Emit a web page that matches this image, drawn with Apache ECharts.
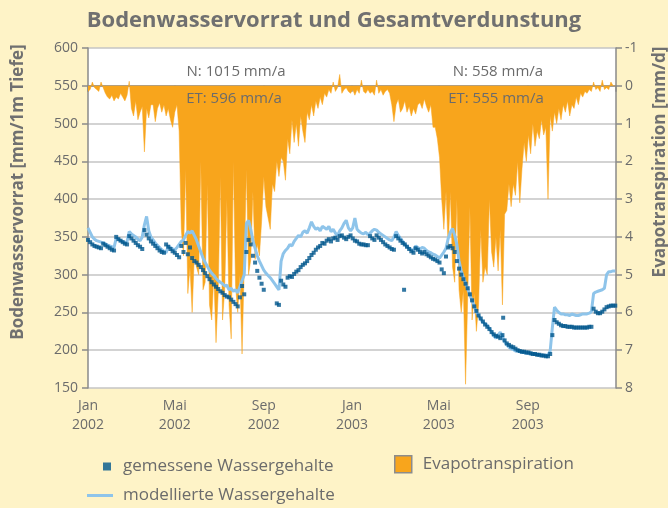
<!DOCTYPE html>
<html>
<head>
<meta charset="utf-8">
<script src="https://cdn.jsdelivr.net/npm/echarts@6/dist/echarts.min.js"></script>
<style>
  html, body { margin: 0; padding: 0; background: #fef3c7; }
  #chart { width: 668px; height: 508px; }
</style>
</head>
<body>
<div id="chart"></div>
<script>
// x axis runs in days from 1 Jan 2002
var monatsTicks = [0, 120, 243, 365, 485, 608, 730];
var monatsLabels = ['Jan\n2002', 'Mai\n2002', 'Sep\n2002', 'Jan\n2003', 'Mai\n2003', 'Sep\n2003', ''];

// all series: one value every 3rd day
var SCHRITT = 3;

// Evapotranspiration [mm/d]
var evapotranspiration = [
  0.15, 0.1, -0.1, 0.05, 0.1, 0.15, -0.1, 0.05, 0.2, 0.3,
  0.35, 0.25, 0.4, 0.3, 0.35, 0.2, 0.3, 0.4, 0.25, -0.12,
  0.6, 0.8, 0.4, 0.9, 0.7, 0.55, 1.75, 0.6, 0.85, 0.5,
  0.5, 0.95, 0.6, 0.45, 0.7, 0.5, 0.8, 0.6, 0.9, 1.1,
  0.7, 0.5, 1.2, 3.8, 4.5, 2.2, 5.5, 4.8, 6.0, 4.5,
  4.8, 5.0, 2.0, 5.4, 5.2, 2.6, 5.8, 6.2, 5.0, 6.8,
  5.5, 2.4, 6.2, 5.4, 3.0, 5.8, 6.7, 2.0, 5.3, 6.0,
  5.0, 7.1, 4.8, 2.2, 5.0, 4.6, 2.8, 4.6, 4.2, 4.5,
  3.6, 2.4, 3.2, 3.5, 3.8, 2.6, 2.8, 2.0, 2.4, 1.9,
  2.0, 2.5, 1.4, 1.8, 0.9, 1.5, 1.0, 1.6, 0.8, 1.2,
  1.5, 0.7, 0.9, 0.5, 0.8, 0.4, 0.6, 0.3, 0.5, 0.2,
  0.3, 0.1, 0.2, -0.1, 0.15, 0.05, -0.3, 0.2, 0.1, 0.05,
  0.15, 0.2, 0.1, 0.25, 0.1, 0.2, -0.15, 0.15, 0.2, 0.1,
  0.2, 0.15, 0.25, -0.15, 0.2, 0.1, 0.25, 0.15, 0.1, 0.2,
  0.5, 0.95, 0.5, 0.35, 0.7, 0.6, 0.4, 0.7, 0.55, 0.8,
  0.6, 0.75, 0.5, 0.45, 0.6, 0.35, 0.55, 0.7, 0.5, 1.1,
  1.1, 1.4, 1.9, 3.0, 3.8, 2.8, 4.3, 2.8, 4.8, 5.2,
  3.0, 5.4, 6.0, 5.4, 7.9, 5.6, 3.2, 6.2, 5.5, 6.5,
  5.8, 3.8, 5.2, 4.8, 5.0, 3.0, 4.4, 4.8, 4.0, 4.9,
  3.8, 5.8, 3.4, 3.3, 2.6, 3.2, 2.6, 2.9, 2.0, 3.1,
  2.2, 1.5, 2.0, 1.3, 1.8, 1.0, 1.6, 1.2, 1.4, 0.9,
  1.3, 1.1, 3.0, 0.8, 1.2, 0.7, 1.0, 0.6, 0.9, 0.5,
  0.7, 0.4, 0.8, 0.5, 0.6, 0.3, 0.5, 0.2, 0.3, 0.15,
  0.2, 0.1, 0.15, -0.1, 0.1, 0.05, 0.15, -0.15, 0.1, 0.05, 0.1, -0.1, 0, 0
];

// Bodenwasservorrat [mm/1m Tiefe]
var modelliert = [
  362, 356, 350, 347, 345, 344, 343, 342, 341, 339,
  338, 337, 336, 348, 347, 345, 344, 342, 344, 357,
  354, 352, 350, 347, 345, 350, 366, 377, 358, 350,
  346, 342, 339, 336, 333, 331, 329, 338, 336, 334,
  333, 336, 340, 344, 346, 352, 357, 355, 358, 352,
  346, 338, 330, 322, 316, 311, 306, 302, 299, 295,
  292, 290, 288, 285, 286, 280, 282, 278, 280, 276,
  284, 292, 300, 368, 372, 360, 345, 335, 325, 318,
  312, 306, 302, 299, 296, 292, 288, 284, 280, 318,
  328, 332, 335, 340, 338, 344, 348, 352, 350, 356,
  358, 355, 362, 370, 364, 360, 362, 358, 364, 362,
  360, 364, 357, 360, 355, 352, 358, 362, 368, 372,
  362, 358, 362, 375, 360, 357, 355, 354, 356, 353,
  355, 358, 360, 359, 356, 354, 352, 350, 348, 346,
  345, 350, 357, 352, 348, 344, 340, 337, 335, 333,
  332, 338, 336, 334, 336, 335, 332, 330, 329, 327,
  326, 324, 322, 326, 330, 335, 348, 356, 361, 352,
  340, 318, 305, 296, 289, 281, 273, 266, 258, 251,
  246, 241, 237, 235, 233, 229, 224, 219, 216, 220,
  224, 218, 211, 207, 204, 202, 201, 199, 199, 198,
  197, 197, 196, 196, 195, 195, 195, 194, 194, 193,
  193, 193, 194, 199, 230, 257, 253, 250, 248, 248,
  247, 247, 246, 248, 247, 246, 246, 247, 248, 248,
  248, 249, 251, 275, 277, 278, 279, 280, 282, 300, 304, 304, 305, 305
];
var gemessen = [
  346, 343, 340, 338, 337, 336, 335, 341, 339, 337,
  335, 333, 332, 350, 347, 345, 343, 341, 340, 351,
  348, 345, 342, 339, 337, 334, 359, 353, 348, 344,
  341, 338, 335, 332, 330, 329, 340, 337, 334, 331,
  329, 326, 323, 338, 330, 342, 327, 336, 322, 318,
  316, 313, 310, 306, 302, 298, 294, 290, 287, 284,
  281, 278, 276, 273, 271, 270, 267, 264, 261, 258,
  270, 285, 274, 330, 346, 340, 325, 316, 305, 296,
  288, 280, null, null, null, null, null, 262, 260, 292,
  287, 284, 296, 298, 297, 301, 304, 306, 310, 313,
  315, 318, 322, 326, 329, 333, 336, 338, 342, 341,
  345, 347, 344, 348, 349, 346, 351, 352, 349, 347,
  350, 352, 348, 345, 344, 341, 340, 340, 339, 339,
  351, 348, 346, 352, 349, 346, 343, 340, 338, 336,
  334, 333, 351, 348, 345, 342, 340, 337, 334, 331,
  329, 335, 333, 330, 328, 330, 327, 325, 323, 321,
  320, 318, 316, 307, 302, 324, 336, 338, 335, 330,
  318, 308, 300, 294, 288, 282, 274, 266, 258, 252,
  246, 242, 238, 234, 231, 228, 224, 221, 219, 218,
  216, 220, 213, 209, 207, 205, 204, 202, 200, 199,
  198, 198, 197, 197, 196, 195, 195, 194, 194, 193,
  193, 192, 192, 195, 220, 240, 237, 235, 233, 232,
  232, 231, 231, 231, 230, 230, 230, 230, 230, 230,
  230, 231, 231, 255, 251, 249, 249, 251, 254, 257, 258, 259, 259, 259
];
var ausreisserTage = [437, 574];
var ausreisserWerte = [280, 243];

var ORANGE = '#f8a51c';
var HELLBLAU = '#8ec4ea';
var DUNKELBLAU = '#00568c';
var GRAU = '#6b6b6b';
var FONT = '"Open Sans", sans-serif';

function mitTagen(werte) {
  var out = [];
  werte.forEach(function(v, i) {
    if (v !== null) out.push([i * SCHRITT, v]);
  });
  return out;
}

var etDaten = mitTagen(evapotranspiration);
var modDaten = mitTagen(modelliert);
var gemDaten = mitTagen(gemessen);
ausreisserTage.forEach(function(t, i) { gemDaten.push([t, ausreisserWerte[i]]); });

function legendeText(abstand) {
  return { color: GRAU, fontSize: 17, fontFamily: FONT, padding: [0, 0, 0, abstand] };
}

var chart = echarts.init(document.getElementById('chart'));
chart.setOption({
  animation: false,
  backgroundColor: '#fef3c7',
  title: {
    text: 'Bodenwasservorrat und Gesamtverdunstung',
    left: 'center',
    top: 5,
    textStyle: { color: '#707070', fontSize: 22, fontWeight: 'bold', fontFamily: FONT }
  },
  grid: {
    left: 88, right: 52, top: 48, bottom: 120,
    show: true, backgroundColor: '#ffffff', borderWidth: 0
  },
  legend: [{
    data: [{ name: 'gemessene Wassergehalte', icon: 'rect' }],
    left: 103, top: 458, padding: 0,
    itemWidth: 8, itemHeight: 8,
    selectedMode: false,
    textStyle: legendeText(7)
  }, {
    data: [{ name: 'Evapotranspiration', icon: 'rect',
             itemStyle: { borderColor: '#8c8c8c', borderWidth: 1.5 } }],
    left: 394, top: 455, padding: 0,
    itemWidth: 17, itemHeight: 17,
    selectedMode: false,
    textStyle: legendeText(6)
  }, {
    data: [{ name: 'modellierte Wassergehalte', icon: 'rect' }],
    left: 87, top: 487, padding: 0,
    itemWidth: 26, itemHeight: 3,
    selectedMode: false,
    textStyle: legendeText(5)
  }],
  xAxis: {
    type: 'value',
    min: 0, max: 730,
    axisLine: { lineStyle: { color: '#8a8a8a', width: 1.5 } },
    axisTick: { customValues: monatsTicks, length: 6, lineStyle: { color: '#8a8a8a', width: 1.5 } },
    axisLabel: {
      customValues: monatsTicks.slice(0, 6),
      color: GRAU, fontSize: 14, fontFamily: FONT, lineHeight: 19, margin: 9,
      formatter: function(v) {
        var i = monatsTicks.indexOf(v);
        return i >= 0 ? monatsLabels[i] : '';
      }
    },
    splitLine: { show: false }
  },
  yAxis: [{
    type: 'value',
    min: 150, max: 600, interval: 50,
    axisLine: { show: true, lineStyle: { color: '#8a8a8a', width: 1.5 } },
    axisTick: { show: true, length: 6, lineStyle: { color: '#8a8a8a', width: 1.5 } },
    axisLabel: { color: GRAU, fontSize: 14, fontFamily: FONT, margin: 10 },
    splitLine: { lineStyle: { color: '#c4c4c4', width: 1.5 } }
  }, {
    type: 'value',
    min: -1, max: 8, interval: 1,
    inverse: true,
    position: 'right',
    axisLine: { show: true, lineStyle: { color: '#8a8a8a', width: 1.5 } },
    axisTick: { show: true, length: 6, lineStyle: { color: '#8a8a8a', width: 1.5 } },
    axisLabel: { color: GRAU, fontSize: 14, fontFamily: FONT, margin: 9 },
    splitLine: { show: false }
  }],
  graphic: [{
    type: 'text', x: 18, y: 192, rotation: Math.PI / 2,
    style: { text: 'Bodenwasservorrat [mm/1m Tiefe]', font: 'bold 17px ' + FONT,
             fill: '#707070', align: 'center', verticalAlign: 'middle' }
  }, {
    type: 'text', x: 660, y: 162, rotation: Math.PI / 2,
    style: { text: 'Evapotranspiration [mm/d]', font: 'bold 17px ' + FONT,
             fill: '#707070', align: 'center', verticalAlign: 'middle' }
  }, {
    type: 'text', x: 236, y: 72,
    style: { text: 'N: 1015 mm/a', font: '15px ' + FONT, fill: GRAU, align: 'center', verticalAlign: 'middle' }
  }, {
    type: 'text', x: 234, y: 99, z: 10,
    style: { text: 'ET: 596 mm/a', font: '15px ' + FONT, fill: GRAU, align: 'center', verticalAlign: 'middle' }
  }, {
    type: 'text', x: 498, y: 72,
    style: { text: 'N: 558 mm/a', font: '15px ' + FONT, fill: GRAU, align: 'center', verticalAlign: 'middle' }
  }, {
    type: 'text', x: 496, y: 99, z: 10,
    style: { text: 'ET: 555 mm/a', font: '15px ' + FONT, fill: GRAU, align: 'center', verticalAlign: 'middle' }
  }],
  series: [{
    name: 'Evapotranspiration',
    type: 'line',
    yAxisIndex: 1,
    data: etDaten,
    symbol: 'none',
    lineStyle: { color: ORANGE, width: 0.5 },
    itemStyle: { color: ORANGE },
    areaStyle: { color: ORANGE, opacity: 1 },
    z: 1
  }, {
    name: 'modellierte Wassergehalte',
    type: 'line',
    data: modDaten,
    symbol: 'none',
    lineStyle: { color: HELLBLAU, width: 3 },
    itemStyle: { color: HELLBLAU },
    z: 2
  }, {
    name: 'gemessene Wassergehalte',
    type: 'scatter',
    data: gemDaten,
    symbol: 'rect',
    symbolSize: 4,
    itemStyle: { color: DUNKELBLAU },
    z: 3
  }]
});
</script>
</body>
</html>
